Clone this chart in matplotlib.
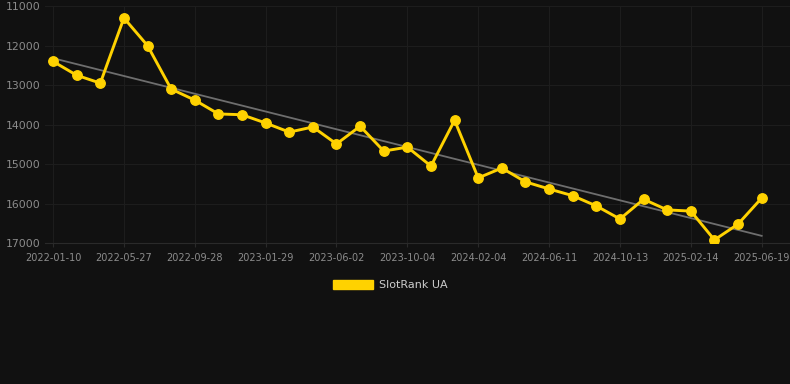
import matplotlib.pyplot as plt
import numpy as np
from matplotlib.patches import Patch

# rank values, one point per period (lower on chart = larger rank number)
ranks = [12400, 12750, 12950, 11300, 12000, 13100, 13380, 13730, 13750, 13960,
         14190, 14060, 14490, 14040, 14670, 14570, 15050, 13890, 15350, 15100,
         15450, 15630, 15800, 16060, 16390, 15890, 16160, 16190, 16920, 16520,
         15860]
tick_labels = ['2022-01-10', '2022-05-27', '2022-09-28', '2023-01-29', '2023-06-02',
               '2023-10-04', '2024-02-04', '2024-06-11', '2024-10-13', '2025-02-14',
               '2025-06-19']
y_ticks = [11000, 12000, 13000, 14000, 15000, 16000, 17000]
series_name = 'SlotRank UA'

bg = '#111111'
gold = '#FFD200'

x = np.arange(len(ranks))
k, b = np.polyfit(x, ranks, 1)

fig = plt.figure(figsize=(7.9, 3.84), dpi=100, facecolor=bg)
ax = fig.add_axes([0.057, 0.367, 0.943, 0.617])
ax.set_facecolor(bg)

ax.plot(x, k * x + b, color='#6e6e6e', lw=1.3, zorder=2)
ax.plot(x, ranks, color=gold, lw=2.1, marker='o', markersize=6.8, zorder=3)

ax.set_xlim(-0.34, 31.2)
ax.set_ylim(17000, 11000)
ax.set_xticks(x[::3])
ax.set_xticklabels(tick_labels)
ax.set_yticks(y_ticks)
ax.set_yticklabels([str(v) for v in y_ticks])
ax.grid(color='#1d1d1d', lw=0.8)
ax.tick_params(axis='x', colors='#8c8c8c', labelsize=7, length=3, pad=4, color='#2a2a2a')
ax.tick_params(axis='y', colors='#8c8c8c', labelsize=7.8, length=0, pad=3)
for s in ['top', 'right', 'left']:
    ax.spines[s].set_visible(False)
ax.spines['bottom'].set_color('#2a2a2a')

fig.legend(handles=[Patch(color=gold, label=series_name)], loc='center',
           bbox_to_anchor=(0.494, 0.258), frameon=False, labelcolor='#cccccc',
           fontsize=8, handlelength=3.6, handleheight=1.0, handletextpad=0.6)

fig.savefig('out.png', dpi=100, facecolor=bg)
